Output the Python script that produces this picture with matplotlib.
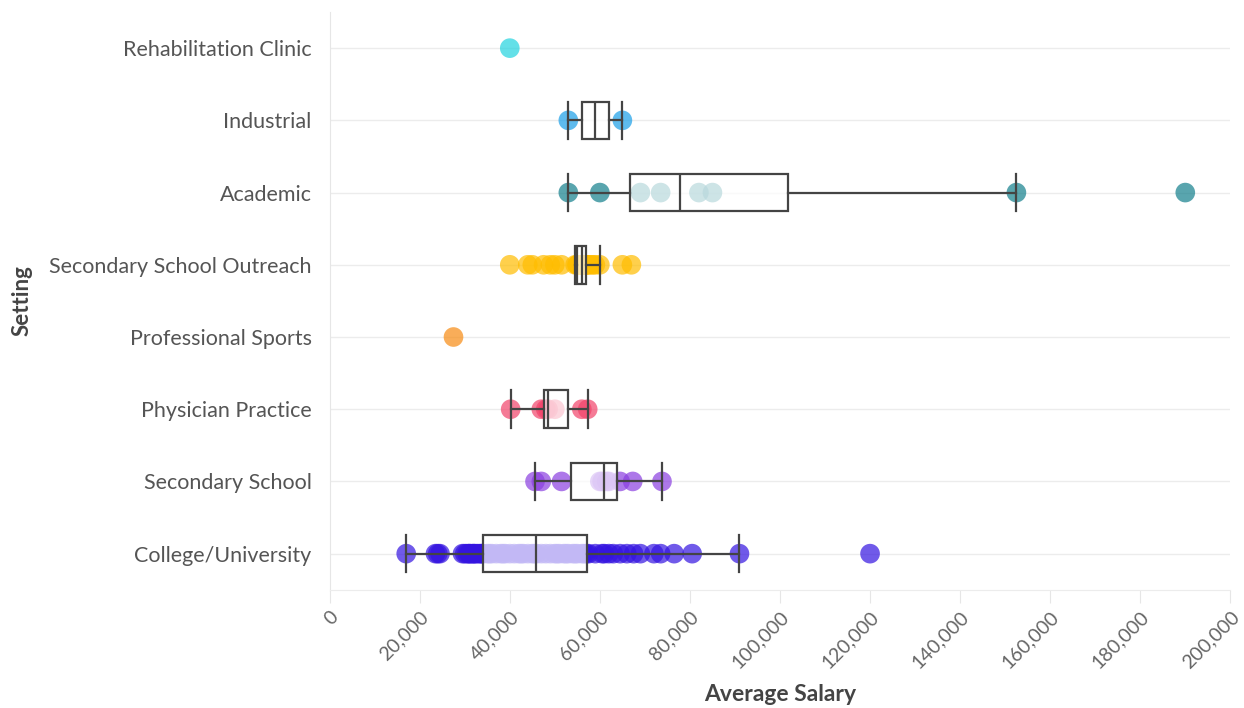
import matplotlib
matplotlib.use("Agg")
import matplotlib.pyplot as plt
import matplotlib.ticker as ticker

# categories listed top to bottom as in the chart
settings = [
    "Rehabilitation Clinic",
    "Industrial",
    "Academic",
    "Secondary School Outreach",
    "Professional Sports",
    "Physician Practice",
    "Secondary School",
    "College/University",
]

rehab = [40000]
industrial = [53000, 65000]
academic = [53000, 60000, 69000, 73500, 82000, 85000, 152500, 190000]
outreach = [40000, 44000, 45000, 47500, 49000, 50000, 51500,
            54500, 55000, 55000, 55000, 55500, 55500, 55500, 56000, 56000,
            56000, 56000, 56000, 56500, 56500, 56500, 57000, 57000, 57000,
            57500, 58000, 58500, 59000, 60000, 65000, 67000]
pro_sports = [27500]
physician = [40200, 47000, 48000, 48500, 50000, 56000, 57300]
secondary = [45600, 47000, 51500, 60000, 60500, 61500, 62000, 64500, 67300, 73800]
college = [17000, 23500, 24000, 24500, 29500, 30000, 30500, 31000, 31000, 31500,
           32000, 32000, 32500, 33000, 33500, 33800,
           34000, 35000, 35500, 36000, 37000, 38000, 38500, 39000, 40000, 41000,
           42000, 42500, 43000, 44000, 45000, 45500, 46000, 47000, 48000, 49000,
           50000, 50500, 51000, 52000, 52500, 53000, 54000, 54500, 55000, 56000,
           56500, 57000,
           57500, 59000, 60500, 61000, 62000, 63000, 64500, 66000, 67500, 69000,
           72000, 73500, 76500, 80500, 91000, 120000]

salaries = [rehab, industrial, academic, outreach, pro_sports, physician, secondary, college]
colors = ["#22d3df", "#1a9fe8", "#137f8c", "#ffbd00", "#f78b12", "#f2436a", "#8a3fe0", "#3414e0"]

x_ticks = [0, 20000, 40000, 60000, 80000, 100000, 120000, 140000, 160000, 180000, 200000]

fig = plt.figure(figsize=(12.44, 7.08), dpi=100)
ax = fig.add_axes([0.265, 0.167, 0.724, 0.816])

n = len(settings)
positions = [n - 1 - i for i in range(n)]

for vals, pos, col in zip(salaries, positions, colors):
    ax.scatter(vals, [pos] * len(vals), s=200, color=col, alpha=0.7,
               edgecolors="none", zorder=2)

# boxes only where there is more than one value
box_data = [v for v in salaries if len(v) > 1]
box_pos = [p for v, p in zip(salaries, positions) if len(v) > 1]
line = dict(color="#444444", linewidth=1.6)
ax.boxplot(box_data, positions=box_pos, orientation="horizontal", widths=0.52,
           capwidths=0.52, showfliers=False, patch_artist=True,
           boxprops=dict(facecolor=(1, 1, 1, 0.7), edgecolor="#444444", linewidth=1.6),
           whiskerprops=line, capprops=line, medianprops=line, zorder=3)

ax.set_ylim(-0.5, n - 0.5)
ax.set_xlim(0, 200000)
ax.set_yticks(positions)
ax.set_yticklabels(settings, fontsize=15.5, color="#555555", family="Lato")
ax.set_xticks(x_ticks)
ax.xaxis.set_major_formatter(ticker.FuncFormatter(lambda v, p: f"{int(v):,}"))
plt.setp(ax.get_xticklabels(), rotation=45, ha="right", va="top",
         rotation_mode="anchor", fontsize=14, color="#666666", family="Lato")

ax.tick_params(axis="y", length=0, pad=13)
ax.tick_params(axis="x", length=9, color="#e6e6e6", pad=4)
ax.grid(axis="y", color="#ececec", linewidth=1, zorder=0)
ax.set_axisbelow(True)
for side in ["top", "right"]:
    ax.spines[side].set_visible(False)
ax.spines["left"].set_color("#e6e6e6")
ax.spines["bottom"].set_color("#ececec")

ax.set_xlabel("Average Salary", fontsize=16.5, fontweight="bold", color="#444444",
              family="Lato", labelpad=9)
ax.set_ylabel("Setting", fontsize=16, fontweight="bold", color="#444444",
              family="Lato", labelpad=12)

fig.savefig("out.png", dpi=100)
